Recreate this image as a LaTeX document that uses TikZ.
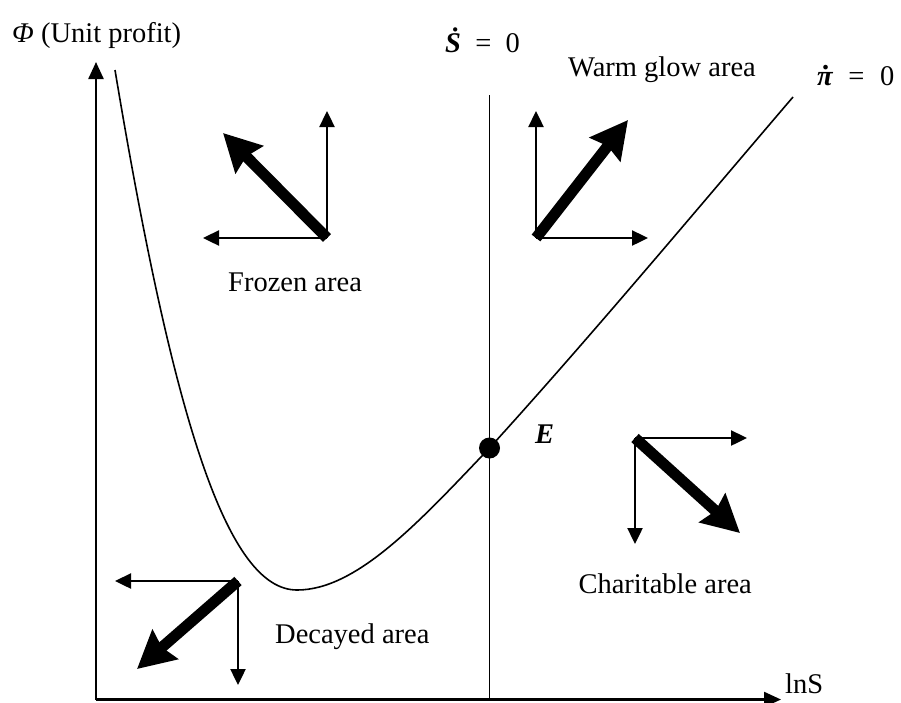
\documentclass[tikz,border=0pt]{standalone}
\usepackage{fontspec}
\setmainfont{Liberation Serif}
\usetikzlibrary{arrows.meta}
\newcommand{\dotabove}[1]{\leavevmode\ooalign{#1\cr\hidewidth\kern0.12em\raisebox{0.56em}{.}\hidewidth\cr}}
\begin{document}
\begin{tikzpicture}[x=1pt,y=-1pt,
  txt/.style={font=\fontsize{28.5}{34}\selectfont, inner sep=0pt},
  axisline/.style={line width=2.4pt, -{Triangle[length=17pt,width=15pt]}},
  thinarrow/.style={line width=2.4pt, -{Triangle[length=16pt,width=15pt]}},
  thickarrow/.style={line width=11pt, -{Stealth[length=37pt,width=38pt,inset=4pt]}},
  curveline/.style={line width=1.6pt},
  eqdot/.style={circle, fill=black, inner sep=0pt, minimum size=21pt}
]
\useasboundingbox (0,0) rectangle (901,702);

% axes
\coordinate (O) at (96,699.5);
\coordinate (ytip) at (96,62);
\coordinate (xtip) at (781,699.5);
\draw[axisline] (O) -- (ytip);
\draw[axisline] (O) -- (xtip);

% S-dot = 0 line
\coordinate (stop) at (489.5,95);
\coordinate (sbot) at (489.5,699.5);
\draw[curveline] (sbot) -- (stop);

% pi-dot = 0 curve
\coordinate (ctop) at (115,70);
\coordinate (cmin) at (297,590);
\coordinate (cE) at (489.5,448);
\coordinate (cend) at (793,97);
\draw[curveline] (ctop) .. controls (175,430) and (229,590) .. (cmin)
  .. controls (357,590) and (419.5,521.5) .. (cE)
  .. controls (589.5,338) and (693,214) .. (cend);

% equilibrium
\node[eqdot] (E) at (cE) {};
\node[txt, anchor=base west] (Elabel) at (535,443) {\textbf{\textit{E}}};

% labels
\node[txt, anchor=base west] (phi) at (12,42) {\textit{Φ} (Unit profit)};
\node[txt, anchor=base west] (sdot) at (445,52) {\textbf{\textit{\.{S}}}\hspace{0.5em}=\hspace{0.5em}0};
\node[txt, anchor=base west] (pidot) at (817,85) {\textbf{\textit{\dotabove{π}}}\hspace{0.55em}=\hspace{0.55em}0};
\node[txt, anchor=base west] (warm) at (568,76) {Warm glow area};
\node[txt, anchor=base west] (frozen) at (228,291) {Frozen area};
\node[txt, anchor=base east] (charit) at (752,593) {Charitable area};
\node[txt, anchor=base west] (decay) at (275,643) {Decayed area};
\node[txt, anchor=base west] (lnS) at (785,693) {lnS};

% Frozen area arrows
\coordinate (fo) at (327,238);
\coordinate (fup) at (327,111);
\coordinate (fleft) at (203,238);
\coordinate (fdiag) at (223,133);
\draw[thinarrow] (fo) -- (fup);
\draw[thinarrow] (fo) -- (fleft);
\draw[thickarrow] (fo) -- (fdiag);

% Warm glow area arrows
\coordinate (wo) at (536,238);
\coordinate (wup) at (536,111);
\coordinate (wright) at (648,238);
\coordinate (wdiag) at (628,120);
\draw[thinarrow] (wo) -- (wup);
\draw[thinarrow] (wo) -- (wright);
\draw[thickarrow] (wo) -- (wdiag);

% Charitable area arrows
\coordinate (co) at (635,438);
\coordinate (cright) at (747,438);
\coordinate (cdown) at (635,544);
\coordinate (cdiag) at (740,533);
\draw[thinarrow] (co) -- (cright);
\draw[thinarrow] (co) -- (cdown);
\draw[thickarrow] (co) -- (cdiag);

% Decayed area arrows
\coordinate (dO) at (238,581);
\coordinate (dleft) at (115,581);
\coordinate (ddown) at (238,685);
\coordinate (ddiag) at (137,669);
\draw[thinarrow] (dO) -- (dleft);
\draw[thinarrow] (dO) -- (ddown);
\draw[thickarrow] (dO) -- (ddiag);
\end{tikzpicture}
\end{document}
